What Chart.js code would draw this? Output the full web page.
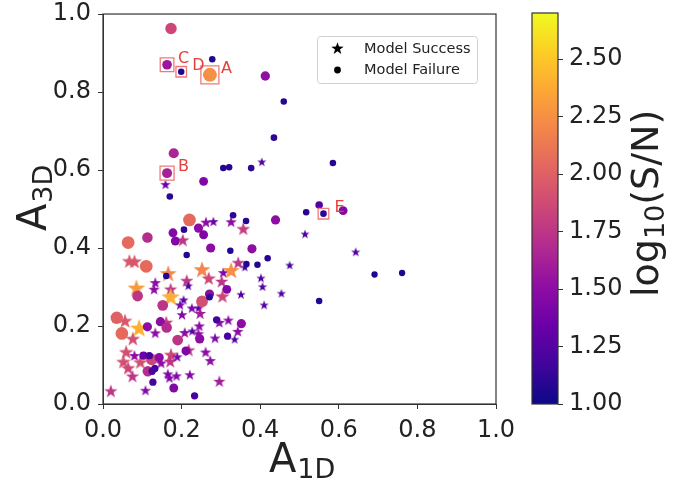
<!DOCTYPE html>
<html>
<head>
<meta charset="utf-8">
<script src="https://cdn.jsdelivr.net/npm/chart.js@4.4.1/dist/chart.umd.min.js"></script>
<style>
  html,body{margin:0;padding:0;background:#fff;}
  #wrap{position:relative;width:694px;height:485px;overflow:hidden;}
  #main{position:absolute;left:0;top:0;}
  #cbar{position:absolute;left:500px;top:0;}
</style>
</head>
<body>
<div id="wrap">
  <canvas id="main" width="520" height="485"></canvas>
  <canvas id="cbar" width="194" height="485"></canvas>
</div>
<script>
// ---------------- DATA ----------------
// Model Success (stars)
const successA1D = [0.159,0.404,0.514,0.643,0.475,0.454,0.410,0.262,0.281,0.326,0.357,0.203,0.067,0.080,0.166,0.252,0.269,0.306,0.326,0.344,0.361,0.402,0.406,0.085,0.133,0.130,0.213,0.217,0.172,0.172,0.205,0.196,0.226,0.243,0.247,0.304,0.351,0.302,0.056,0.092,0.076,0.133,0.161,0.208,0.227,0.245,0.243,0.201,0.296,0.319,0.343,0.335,0.285,0.218,0.261,0.273,0.059,0.052,0.080,0.095,0.148,0.173,0.171,0.189,0.064,0.075,0.165,0.169,0.187,0.221,0.020,0.108,0.296];
const successA3D = [0.562,0.620,0.435,0.389,0.355,0.283,0.253,0.465,0.467,0.466,0.448,0.419,0.365,0.364,0.333,0.343,0.321,0.336,0.341,0.361,0.350,0.322,0.300,0.296,0.310,0.293,0.315,0.302,0.293,0.273,0.266,0.253,0.245,0.245,0.231,0.275,0.280,0.313,0.212,0.193,0.166,0.181,0.208,0.182,0.186,0.199,0.179,0.228,0.208,0.214,0.185,0.165,0.168,0.137,0.132,0.110,0.132,0.107,0.123,0.106,0.104,0.125,0.108,0.120,0.091,0.070,0.076,0.066,0.071,0.074,0.032,0.034,0.057];
const successLogSN = [1.35,1.22,1.22,1.25,1.20,1.22,1.25,1.50,1.35,1.50,1.80,1.75,1.95,1.95,2.20,2.20,1.85,1.45,2.25,1.75,1.20,1.25,1.25,2.30,1.50,1.50,1.75,1.25,1.75,2.40,1.30,1.40,1.40,1.30,1.60,1.85,1.25,1.75,1.95,2.40,1.90,1.50,1.80,1.50,1.30,1.50,1.50,1.45,1.50,1.45,1.50,1.25,1.45,1.75,1.50,1.50,1.90,1.90,1.50,1.90,1.50,1.85,1.75,1.40,1.85,1.75,1.45,1.45,1.45,1.45,1.75,1.45,1.60];

// Model Failure (circles)
const failureA1D = [0.173,0.163,0.199,0.278,0.272,0.413,0.460,0.435,0.180,0.163,0.170,0.256,0.306,0.321,0.377,0.585,0.550,0.517,0.561,0.611,0.691,0.761,0.550,0.220,0.331,0.364,0.439,0.243,0.064,0.113,0.178,0.206,0.256,0.184,0.213,0.274,0.324,0.379,0.419,0.110,0.161,0.365,0.393,0.088,0.152,0.252,0.271,0.271,0.315,0.035,0.048,0.113,0.146,0.162,0.190,0.289,0.352,0.317,0.246,0.211,0.103,0.124,0.118,0.143,0.114,0.125,0.132,0.127,0.180,0.233];
const failureA3D = [0.963,0.870,0.852,0.884,0.844,0.841,0.776,0.683,0.643,0.592,0.532,0.571,0.605,0.607,0.605,0.618,0.510,0.492,0.488,0.496,0.332,0.336,0.264,0.472,0.484,0.469,0.472,0.451,0.414,0.427,0.439,0.447,0.434,0.418,0.382,0.400,0.393,0.398,0.374,0.353,0.328,0.359,0.357,0.277,0.253,0.263,0.282,0.274,0.294,0.221,0.181,0.198,0.211,0.196,0.164,0.216,0.206,0.174,0.167,0.136,0.124,0.114,0.124,0.119,0.084,0.084,0.091,0.056,0.041,0.021];
const failureLogSN = [1.85,1.57,1.08,1.08,2.25,1.52,1.08,1.10,1.65,1.62,1.10,1.45,1.08,1.08,1.10,1.08,1.25,1.08,1.10,1.45,1.05,1.05,1.08,2.05,1.10,1.08,1.50,1.50,2.05,1.70,1.45,1.10,1.45,1.45,1.08,1.50,1.08,1.50,1.08,2.05,1.08,1.08,1.08,1.75,1.75,1.90,1.50,1.10,1.45,2.00,2.05,1.50,1.50,1.70,1.75,1.20,1.50,1.20,1.50,1.45,1.35,1.85,1.20,1.50,1.70,1.20,1.20,1.20,1.45,1.20];

// Annotated objects (index into the failure arrays)
const annotLabels = ['A','B','C','D','E'];
const annotIndex  = [4, 9, 1, 2, 18];

// Axes / colorbar
const xTicks = [0.0,0.2,0.4,0.6,0.8,1.0];
const yTicks = [0.0,0.2,0.4,0.6,0.8,1.0];
const cbTicks = [1.00,1.25,1.50,1.75,2.00,2.25,2.50];
const cbMin = 1.0, cbMax = 2.70;
const legendLabels = ['Model Success','Model Failure'];

// ---------------- STYLE HELPERS ----------------
const FONT = 'DejaVu Sans';
const TXT = '#222';
const PLASMA = ['#0d0887','#41049d','#6a00a8','#8f0da4','#b12a90','#cc4778','#e16462','#f2844b','#fca636','#fcce25','#f0f921'];
function hex2rgb(h){return [parseInt(h.slice(1,3),16),parseInt(h.slice(3,5),16),parseInt(h.slice(5,7),16)];}
const PL = PLASMA.map(hex2rgb);
function plasma(v){
  let t=(v-cbMin)/(cbMax-cbMin); t=Math.max(0,Math.min(1,t));
  const p=t*10, i=Math.min(9,Math.floor(p)), f=p-i;
  const a=PL[i], b=PL[i+1];
  return 'rgb('+a.map((c,k)=>Math.round(c+(b[k]-c)*f)).join(',')+')';
}
function radiusOf(v){ return 3 + 3.2*(v-1); }
function starPath(g,cx,cy,R){
  const ri=R*0.4; g.beginPath();
  for(let i=0;i<10;i++){
    const rr=i%2?ri:R, a=-Math.PI/2+i*Math.PI/5;
    const px=cx+rr*Math.cos(a), py=cy+rr*Math.sin(a);
    if(i) g.lineTo(px,py); else g.moveTo(px,py);
  }
  g.closePath();
}
function starCanvas(R,color){
  const s=2*Math.ceil(R+1);
  const c=document.createElement('canvas'); c.width=s; c.height=s;
  const g=c.getContext('2d'); g.fillStyle=color; starPath(g,s/2,s/2,R); g.fill();
  return c;
}
function noPad(s){ s.paddingTop=0; s.paddingBottom=0; s.paddingLeft=0; s.paddingRight=0; }

// ---------------- MAIN CHART ----------------
const failurePts = failureA1D.map((x,i)=>({x:x,y:failureA3D[i]}));
const successPts = successA1D.map((x,i)=>({x:x,y:successA3D[i]}));
const annotPts = annotIndex.map(i=>({x:failureA1D[i],y:failureA3D[i]}));

const decorPlugin = {
  id:'decor',
  afterDraw(chart){
    const g=chart.ctx, a=chart.chartArea, xs=chart.scales.x, ys=chart.scales.y;
    g.save();
    g.strokeStyle='#333'; g.lineWidth=1.2;
    g.strokeRect(a.left,a.top,a.right-a.left,a.bottom-a.top);
    g.fillStyle='#e8403a'; g.font='16px "'+FONT+'"'; g.textAlign='left'; g.textBaseline='alphabetic';
    annotIndex.forEach((idx,k)=>{
      const px=xs.getPixelForValue(failureA1D[idx]), py=ys.getPixelForValue(failureA3D[idx]);
      g.fillText(annotLabels[k], px+11, py-2);
    });
    const lx=317, ly=36, lw=160, lh=47;
    g.fillStyle='rgba(255,255,255,0.85)'; g.strokeStyle='#d0d0d0'; g.lineWidth=1;
    g.beginPath(); g.roundRect(lx+0.5,ly+0.5,lw,lh,3); g.fill(); g.stroke();
    g.fillStyle='#000';
    starPath(g,337.5,48.7,6.5); g.fill();
    g.beginPath(); g.arc(337.5,70,3.4,0,Math.PI*2); g.fill();
    g.fillStyle=TXT; g.font='14.5px "'+FONT+'"'; g.textBaseline='middle';
    g.fillText(legendLabels[0],364,49);
    g.fillText(legendLabels[1],364,70.5);
    g.textBaseline='alphabetic'; g.fillStyle=TXT;
    g.font='40px "'+FONT+'"'; g.fillText('A',269,472);
    const wA=g.measureText('A').width;
    g.font='27px "'+FONT+'"'; g.fillText('1D',269+wA+1,478);
    g.translate(46,231); g.rotate(-Math.PI/2);
    g.font='40px "'+FONT+'"'; g.fillText('A',0,0);
    g.font='27px "'+FONT+'"'; g.fillText('3D',wA+1,6);
    g.restore();
  }
};

const tickFont = {family:FONT,size:24};
new Chart(document.getElementById('main'),{
  type:'scatter',
  data:{datasets:[
    {label:'marked', data:annotPts, pointStyle:'rect',
     pointRadius:annotIndex.map(i=>(2*radiusOf(failureLogSN[i])+4)/Math.SQRT2),
     pointBackgroundColor:'rgba(0,0,0,0)', pointBorderColor:'#f07a78', pointBorderWidth:1.3, order:0},
    {label:legendLabels[1], data:failurePts, pointStyle:'circle',
     pointRadius:failureLogSN.map(radiusOf),
     pointBackgroundColor:failureLogSN.map(plasma), pointBorderWidth:0, order:1},
    {label:legendLabels[0], data:successPts,
     pointStyle:successLogSN.map(v=>starCanvas(1.3*radiusOf(v),plasma(v))),
     pointRadius:successLogSN.map(v=>1.3*radiusOf(v)), pointBorderWidth:0, order:2}
  ]},
  options:{
    responsive:false, animation:false, events:[],
    plugins:{legend:{display:false},tooltip:{enabled:false}},
    layout:{padding:{top:13,right:24,left:0,bottom:0}},
    scales:{
      x:{type:'linear',min:0,max:1,
         afterBuildTicks:s=>{s.ticks=xTicks.map(v=>({value:v}));},
         afterFit:s=>{s.height=81; noPad(s);},
         ticks:{font:tickFont,color:TXT,padding:7,maxRotation:0,autoSkip:false,callback:v=>Number(v).toFixed(1)},
         grid:{display:true,drawOnChartArea:false,drawTicks:true,tickLength:5,color:'#333',lineWidth:1},
         border:{display:true,color:'#333',width:1}},
      y:{type:'linear',min:0,max:1,
         afterBuildTicks:s=>{s.ticks=yTicks.map(v=>({value:v}));},
         afterFit:s=>{s.width=103; noPad(s);},
         ticks:{font:tickFont,color:TXT,padding:7,autoSkip:false,callback:v=>Number(v).toFixed(1)},
         grid:{display:true,drawOnChartArea:false,drawTicks:true,tickLength:5,color:'#333',lineWidth:1},
         border:{display:true,color:'#333',width:1}}
    }
  },
  plugins:[decorPlugin]
});

// ---------------- COLORBAR ----------------
const cbPlugin = {
  id:'cbdecor',
  afterDraw(chart){
    const g=chart.ctx, a=chart.chartArea;
    g.save();
    g.strokeStyle='#333'; g.lineWidth=1.2;
    g.strokeRect(a.left,a.top,a.right-a.left,a.bottom-a.top);
    g.fillStyle=TXT; g.textBaseline='alphabetic'; g.textAlign='left';
    g.translate(158,297); g.rotate(-Math.PI/2);
    g.font='38px "'+FONT+'"'; g.fillText('log',0,0);
    let w=g.measureText('log').width;
    g.font='27px "'+FONT+'"'; g.fillText('10',w,6);
    w+=g.measureText('10').width;
    g.font='38px "'+FONT+'"'; g.fillText('(S/N)',w,0);
    g.restore();
  }
};
new Chart(document.getElementById('cbar'),{
  type:'bar',
  data:{labels:[''],datasets:[{data:[[cbMin,cbMax]],
    backgroundColor:(c)=>{
      const a=c.chart.chartArea; if(!a) return '#888';
      const gr=c.chart.ctx.createLinearGradient(0,a.bottom,0,a.top);
      PLASMA.forEach((col,i)=>gr.addColorStop(i/10,col));
      return gr;
    },
    barPercentage:1,categoryPercentage:1,borderWidth:0,borderSkipped:false}]},
  options:{
    responsive:false, animation:false, events:[],
    plugins:{legend:{display:false},tooltip:{enabled:false}},
    layout:{padding:{left:32,top:13,bottom:81,right:0}},
    scales:{
      x:{display:false},
      y:{position:'right',min:cbMin,max:cbMax,
         afterBuildTicks:s=>{s.ticks=cbTicks.map(v=>({value:v}));},
         afterFit:s=>{s.width=136; noPad(s);},
         ticks:{font:tickFont,color:TXT,padding:6,autoSkip:false,callback:v=>Number(v).toFixed(2)},
         grid:{display:true,drawOnChartArea:false,drawTicks:true,tickLength:5,color:'#333',lineWidth:1},
         border:{display:false}}
    }
  },
  plugins:[cbPlugin]
});
</script>
</body>
</html>
